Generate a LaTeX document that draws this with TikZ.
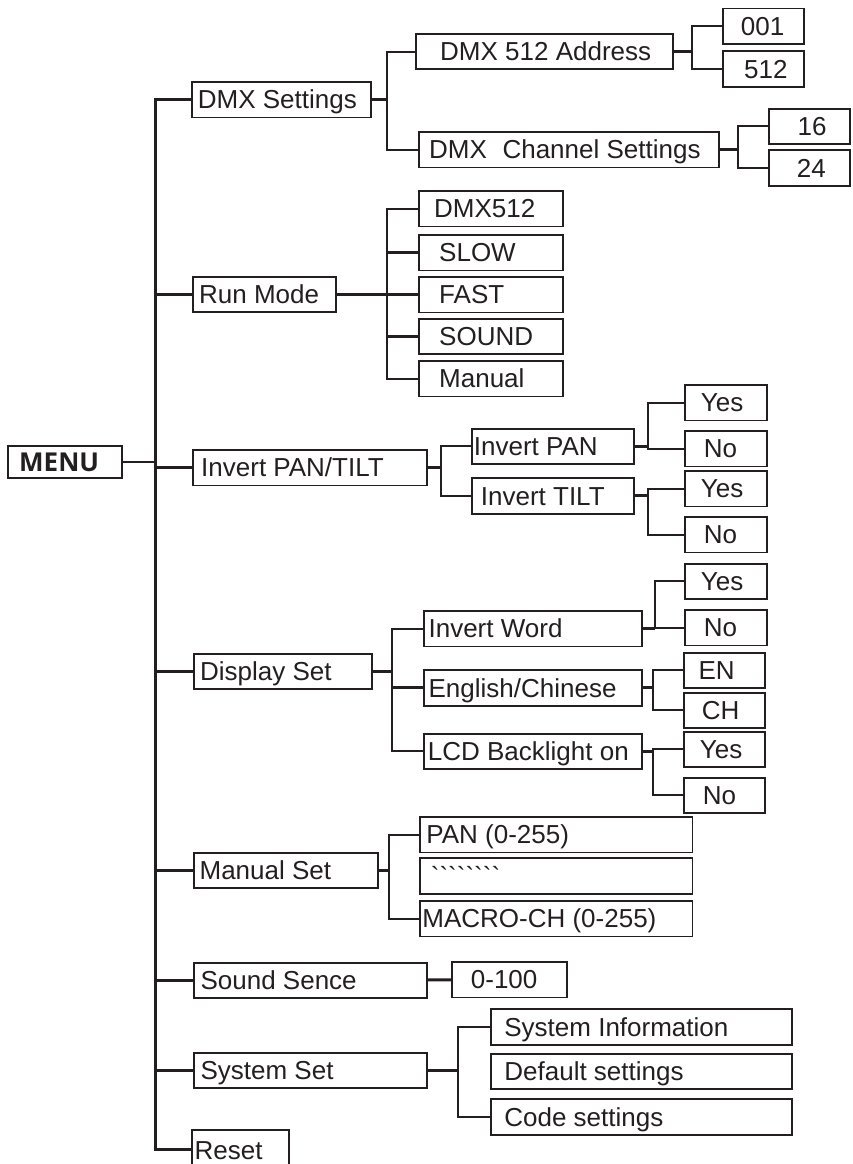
\documentclass[tikz,border=0pt]{standalone}
\usepackage{fontspec}
\setmainfont{Liberation Sans}
\newfontfamily\menufont{Open Sans}
\newfontfamily\rawfont{Liberation Sans}[Ligatures=TeXOff]
\definecolor{ink}{RGB}{35,31,32}
\newcommand{\celltext}[3]{\makebox[#1pt][l]{\hspace*{#2pt}#3}}
\begin{document}
\begin{tikzpicture}[x=1pt,y=-1pt,
  every node/.style={font=\fontsize{26}{30}\selectfont,text=ink},
  box/.style={draw=ink,line width=1.8pt,anchor=north west,inner sep=0pt,minimum height=35.5pt,text height=18.6pt,text depth=0pt},
  link/.style={draw=ink,line width=3pt},
  twig/.style={draw=ink,line width=2pt}]
  \useasboundingbox (0,0) rectangle (852,1164);
  \clip (0,0) rectangle (852,1164);
  \node[box,minimum height=32pt] (menu) at (6.7,445.3) {\celltext{114}{11.6}{\menufont\bfseries MENU}};
  \foreach \n/\x/\y/\w/\o/\t in {
      dmx/191/81/179/6/DMX Settings,
      addr/414.7/33/257/24.6/DMX 512 Address,
      a001/721.7/7.7/81/18.3/001,
      a512/721.7/50.3/81/21.6/512,
      chan/418.3/131/299.4/10/DMX\hspace{0.6em}Channel Settings,
      c16/768.3/107.7/81/28.4/16,
      c24/768.3/149.3/81/27.7/24,
      run/191.7/275.7/143.3/6.6/Run Mode,
      rdmx/418.3/190/144/15/DMX512,
      rslow/418.3/234/144/20/SLOW,
      rfast/418.3/276/144/20/FAST,
      rsound/418.3/317.7/144/20/SOUND,
      rmanual/418.3/360/144/20/Manual,
      inv/192.3/449/233.4/8/{Invert PAN/TILT},
      ipan/471/427.7/161.7/2/Invert PAN,
      itilt/471/477.3/161.7/9/Invert TILT,
      ipy/684.3/384/81.4/15.7/Yes,
      ipn/684.3/430/81.4/18.7/No,
      ity/684.3/470/81.4/15.7/Yes,
      itn/684.3/516/81.4/18.7/No,
      disp/192.7/652.7/178.3/6.6/Display Set,
      dword/422.7/610/218.3/5/Invert Word,
      dwy/684.3/562.7/81.4/15.7/Yes,
      dwn/684.3/609/81.4/18.7/No,
      dlang/422.7/669.3/218.3/5/{English/Chinese},
      den/683.3/651.7/81/14.4/EN,
      dch/683.3/691.7/81/17.7/CH,
      dlcd/422.7/732.7/218.3/4.3/LCD Backlight on,
      dly/683.3/730.7/80.7/15.7/Yes,
      dln/683.3/776.7/80.7/18.7/No,
      man/192.7/851.7/184.6/6/Manual Set,
      mpan/419/816/272.6/6.5/PAN (0-255),
      mdots/419/857.3/272.6/11/{\rawfont\symbol{96}\symbol{96}\symbol{96}\symbol{96}\symbol{96}\symbol{96}\symbol{96}\symbol{96}},
      mmacro/419/900/272.6/2.5/MACRO-CH (0-255),
      snd/192.7/961.7/233/7/Sound Sence,
      s100/451/961/115/19/0-100,
      sys/192.7/1051.7/233/7/System Set,
      sinfo/490/1008.3/301/13.5/System Information,
      sdef/490/1052.7/301/13.5/Default settings,
      scode/490/1098.3/301/13.5/Code settings}
    \node[box] (\n) at (\x,\y) {\celltext{\w}{\o}{\t}};
  \node[box,minimum height=40pt] (reset) at (190.7,1129) {\celltext{97.3}{3}{Reset}};
  \coordinate (trunk) at (155.7,0);
  \draw[twig] (menu.east) -- (menu.east -| trunk);
  \draw[link] (dmx.west) -- (dmx.west -| trunk) -- (reset.west -| trunk) -- (reset.west);
  \foreach \n in {run,inv,disp,man,snd,sys}
    \draw[link] (\n.west) -- (\n.west -| trunk);
  \foreach \p/\x/\first/\last in {
      dmx/386.7/addr/chan, addr/691.7/a001/a512, chan/738.3/c16/c24,
      run/386.7/rdmx/rmanual, inv/440.7/ipan/itilt, ipan/647.7/ipy/ipn,
      itilt/647.7/ity/itn, disp/392.3/dword/dlcd, dword/655/dwy/dwn,
      dlang/653.3/den/dch, dlcd/653.3/dly/dln, man/389.3/mpan/mmacro,
      sys/458.3/sinfo/scode} {
    \coordinate (bus) at (\x,0);
    \draw[link] (\p.east) -- (\p.east -| bus);
    \draw[twig] (\first.west) -- (\first.west -| bus) -- (\last.west -| bus) -- (\last.west);
  }
  \foreach \k/\x in {rslow/386.7, rfast/386.7, rsound/386.7, dlang/392.3} {
    \coordinate (bus) at (\x,0);
    \draw[link] (\k.west) -- (\k.west -| bus);
  }
  \draw[link] (snd) -- (s100);
\end{tikzpicture}
\end{document}
